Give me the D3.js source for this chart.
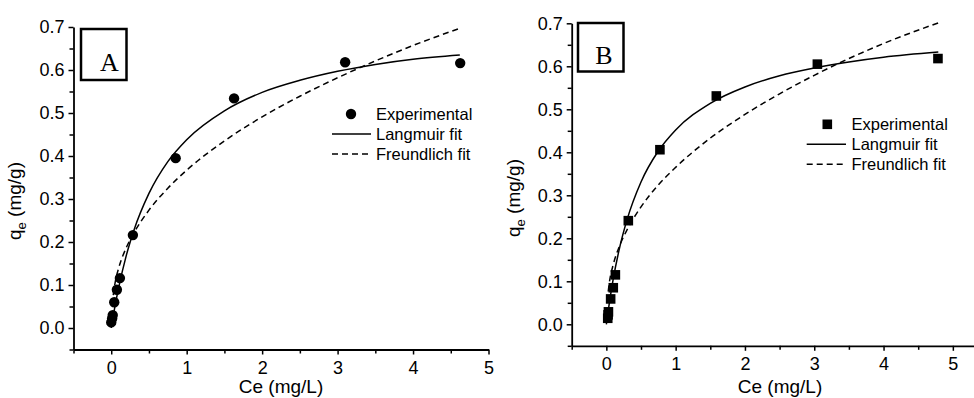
<!DOCTYPE html>
<html>
<head>
<meta charset="utf-8">
<script src="https://cdn.jsdelivr.net/npm/d3@7"></script>
<style>
  html, body { margin: 0; padding: 0; background: #fff; }
  svg { display: block; }
  .tick-label { font-family: "Liberation Sans", Arial, sans-serif; font-size: 18px; fill: #000; }
  .axis-title { font-family: "Liberation Sans", Arial, sans-serif; font-size: 19px; fill: #000; }
  .legend-text { font-family: "Liberation Sans", Arial, sans-serif; font-size: 16.5px; fill: #000; }
  .panel-letter { font-family: "Liberation Serif", "Times New Roman", serif; font-size: 26px; fill: #000; }
</style>
</head>
<body>
<svg id="chart" width="974" height="398"></svg>
<script>
// ---- Panel A: experimental isotherm points ----
const ceA = [0.0, 0.012, 0.02, 0.04, 0.075, 0.115, 0.287, 0.854, 1.628, 3.10, 4.625];
const qeA = [0.013, 0.022, 0.030, 0.060, 0.089, 0.116, 0.216, 0.395, 0.534, 0.618, 0.616];

// Panel A: Langmuir fit curve samples
const langCeA = [0, 0.05, 0.1, 0.2, 0.3, 0.5, 0.75, 1.0, 1.5, 2.0, 2.5, 3.0, 3.5, 4.0, 4.62];
const langQeA = [0, 0.051, 0.095, 0.169, 0.227, 0.313, 0.387, 0.438, 0.505, 0.548, 0.576, 0.597, 0.613, 0.625, 0.635];

// Panel A: Freundlich fit curve samples
const freCeA = [0.01, 0.05, 0.1, 0.2, 0.3, 0.5, 0.75, 1.0, 1.5, 2.0, 2.5, 3.0, 3.5, 4.0, 4.62];
const freQeA = [0.053, 0.104, 0.140, 0.187, 0.221, 0.274, 0.325, 0.367, 0.435, 0.491, 0.539, 0.582, 0.621, 0.657, 0.697];

// ---- Panel B: experimental isotherm points ----
const ceB = [0.02, 0.025, 0.03, 0.062, 0.10, 0.13, 0.317, 0.773, 1.587, 3.045, 4.785];
const qeB = [0.014, 0.022, 0.029, 0.059, 0.085, 0.115, 0.241, 0.406, 0.531, 0.605, 0.618];

// Panel B: Langmuir fit curve samples
const langCeB = [0, 0.05, 0.1, 0.2, 0.3, 0.5, 0.75, 1.0, 1.5, 2.0, 2.5, 3.0, 3.5, 4.0, 4.79];
const langQeB = [0, 0.057, 0.106, 0.184, 0.244, 0.331, 0.403, 0.452, 0.514, 0.552, 0.578, 0.596, 0.610, 0.621, 0.633];

// Panel B: Freundlich fit curve samples
const freCeB = [0.01, 0.05, 0.1, 0.2, 0.3, 0.5, 0.75, 1.0, 1.5, 2.0, 2.5, 3.0, 3.5, 4.0, 4.79];
const freQeB = [0.053, 0.104, 0.139, 0.186, 0.220, 0.273, 0.324, 0.365, 0.433, 0.488, 0.536, 0.579, 0.618, 0.653, 0.701];

// Axis ticks and labels
const xMajorTicks = [0, 1, 2, 3, 4, 5];
const xMinorTicks = [-0.5, 0.5, 1.5, 2.5, 3.5, 4.5, 5.5];
const yMajorTicks = [0.0, 0.1, 0.2, 0.3, 0.4, 0.5, 0.6, 0.7];
const yMinorTicks = [-0.05, 0.05, 0.15, 0.25, 0.35, 0.45, 0.55, 0.65];
const legendLabels = ["Experimental", "Langmuir fit", "Freundlich fit"];

const svg = d3.select("#chart");
svg.append("rect").attr("width", 974).attr("height", 398).attr("fill", "#fff");

function drawPanel(cfg) {
  const x = d3.scaleLinear().domain(cfg.xDomain).range(cfg.xRange);
  const y = d3.scaleLinear().domain([-0.05, 0.7]).range(cfg.yRange);
  const g = svg.append("g");

  // x axis: labelled integer ticks + half-step minor ticks
  const xAxis = g.append("g").attr("transform", `translate(0,${cfg.yRange[0]})`);
  xAxis.call(d3.axisBottom(x).tickValues(xMajorTicks).tickSizeInner(5).tickSizeOuter(0).tickPadding(6).tickFormat(d3.format("d")));
  xAxis.append("g").call(d3.axisBottom(x).tickValues(xMinorTicks.filter(v => v <= cfg.xDomain[1])).tickSize(4).tickFormat(""))
    .select(".domain").remove();

  // y axis
  const yAxis = g.append("g").attr("transform", `translate(${cfg.xRange[0]},0)`);
  yAxis.call(d3.axisLeft(y).tickValues(yMajorTicks).tickSizeInner(5).tickSizeOuter(0).tickPadding(4).tickFormat(d3.format(".1f")));
  yAxis.append("g").call(d3.axisLeft(y).tickValues(yMinorTicks).tickSize(4).tickFormat(""))
    .select(".domain").remove();

  [xAxis, yAxis].forEach(a => {
    a.selectAll(".domain").attr("stroke", "#000").attr("stroke-width", 1.8);
    a.selectAll(".tick line").attr("stroke", "#000").attr("stroke-width", 1.5);
    a.selectAll(".tick text").attr("class", "tick-label").attr("font-size", null).attr("font-family", null);
  });
  xAxis.selectAll(".tick text").attr("dy", "0.74em");

  // fit curves
  const line = d3.line().x(d => x(d[0])).y(d => y(d[1])).curve(d3.curveMonotoneX);
  g.append("path").datum(d3.zip(cfg.freCe, cfg.freQe)).attr("d", line)
    .attr("fill", "none").attr("stroke", "#000").attr("stroke-width", 1.5).attr("stroke-dasharray", "6,4");
  g.append("path").datum(d3.zip(cfg.langCe, cfg.langQe)).attr("d", line)
    .attr("fill", "none").attr("stroke", "#000").attr("stroke-width", 1.5);

  // experimental points
  const pts = d3.zip(cfg.ce, cfg.qe);
  if (cfg.marker === "circle") {
    g.selectAll("circle.pt").data(pts).join("circle").attr("class", "pt")
      .attr("cx", d => x(d[0])).attr("cy", d => y(d[1])).attr("r", 5.2).attr("fill", "#000");
  } else {
    g.selectAll("rect.pt").data(pts).join("rect").attr("class", "pt")
      .attr("x", d => x(d[0]) - 4.8).attr("y", d => y(d[1]) - 4.8)
      .attr("width", 9.6).attr("height", 9.6).attr("fill", "#000");
  }

  // axis titles
  g.append("text").attr("class", "axis-title").attr("text-anchor", "middle")
    .attr("x", cfg.xTitlePos[0]).attr("y", cfg.xTitlePos[1]).text("Ce (mg/L)");
  const yt = g.append("text").attr("class", "axis-title").attr("text-anchor", "middle")
    .attr("transform", `translate(${cfg.yTitlePos[0]},${cfg.yTitlePos[1]}) rotate(-90)`);
  yt.append("tspan").text("q");
  yt.append("tspan").attr("font-size", "13px").attr("dy", "5").text("e");
  yt.append("tspan").attr("dy", "-5").text(" (mg/g)");

  // panel letter box
  const b = cfg.box;
  g.append("rect").attr("x", b[0]).attr("y", b[1]).attr("width", b[2]).attr("height", b[3])
    .attr("fill", "#fff").attr("stroke", "#000").attr("stroke-width", 2.5);
  g.append("text").attr("class", "panel-letter").attr("text-anchor", "middle")
    .attr("x", cfg.letterPos[0]).attr("y", cfg.letterPos[1]).text(cfg.letter);

  // legend
  const L = cfg.legend;
  if (cfg.marker === "circle") {
    g.append("circle").attr("cx", L.markerX).attr("cy", L.y0).attr("r", 5.2).attr("fill", "#000");
  } else {
    g.append("rect").attr("x", L.markerX - 4.8).attr("y", L.y0 - 4.8).attr("width", 9.6).attr("height", 9.6).attr("fill", "#000");
  }
  g.append("line").attr("x1", L.lineX0).attr("x2", L.lineX1).attr("y1", L.y0 + 20).attr("y2", L.y0 + 20)
    .attr("stroke", "#000").attr("stroke-width", 1.5);
  g.append("line").attr("x1", L.lineX0).attr("x2", L.lineX1).attr("y1", L.y0 + 40).attr("y2", L.y0 + 40)
    .attr("stroke", "#000").attr("stroke-width", 1.5).attr("stroke-dasharray", "6,4");
  legendLabels.forEach((t, i) => {
    g.append("text").attr("class", "legend-text").attr("x", L.textX).attr("y", L.y0 + i * 20)
      .attr("dy", "0.35em").text(t);
  });
}

drawPanel({
  xDomain: [-0.5, 5], xRange: [73.5, 488.5], yRange: [349.5, 27],
  ce: ceA, qe: qeA, langCe: langCeA, langQe: langQeA, freCe: freCeA, freQe: freQeA,
  marker: "circle", letter: "A",
  box: [81, 29, 45.5, 51], letterPos: [109.5, 70.5],
  xTitlePos: [281, 393], yTitlePos: [21, 201],
  legend: { markerX: 351, textX: 376, lineX0: 332, lineX1: 371, y0: 114 }
});

drawPanel({
  xDomain: [-0.5, 5.5], xRange: [571.7, 987.5], yRange: [345.8, 23.3],
  ce: ceB, qe: qeB, langCe: langCeB, langQe: langQeB, freCe: freCeB, freQe: freQeB,
  marker: "square", letter: "B",
  box: [578, 23, 45.5, 48.5], letterPos: [604, 64],
  xTitlePos: [780, 392.5], yTitlePos: [520, 198],
  legend: { markerX: 827.3, textX: 851.5, lineX0: 806.7, lineX1: 846, y0: 124.3 }
});
</script>
</body>
</html>
